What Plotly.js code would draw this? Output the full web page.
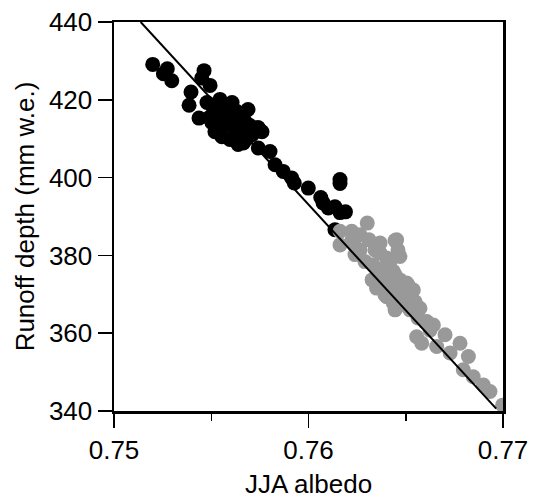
<!DOCTYPE html>
<html>
<head>
<meta charset="utf-8">
<script src="https://cdn.plot.ly/plotly-3.0.1.min.js"></script>
<style>html,body{margin:0;padding:0;background:#fff;}#chart{width:534px;height:499px;}</style>
</head>
<body>
<div id="chart"></div>
<script>
// Black series (earlier period)
var blackAlbedo = [
  0.75199, 0.75274, 0.75254, 0.75297, 0.75463, 0.75451, 0.75494, 0.75396, 0.75386, 0.75437,
  0.75478, 0.75509, 0.75545, 0.75576, 0.75607, 0.75535, 0.75571, 0.75596, 0.75632, 0.75658,
  0.75674, 0.75699, 0.75725, 0.75504, 0.75545, 0.75586, 0.75622, 0.75648, 0.75679, 0.75710,
  0.75740, 0.75761, 0.75519, 0.75555, 0.75596, 0.75638, 0.75668, 0.75627, 0.75689, 0.75488,
  0.75540, 0.75742, 0.75665, 0.75742, 0.75802, 0.75828, 0.75870, 0.75914, 0.75927, 0.75999,
  0.76063, 0.76102, 0.76162, 0.76162, 0.76136, 0.76190, 0.76136, 0.76075, 0.76162
];
var blackRunoff = [
  429.1, 428.0, 426.7, 424.9, 427.5, 425.6, 423.7, 422.0, 418.6, 415.3,
  419.3, 418.0, 420.1, 418.8, 419.3, 416.2, 417.0, 415.4, 417.0, 416.2,
  414.4, 413.4, 412.3, 414.1, 412.8, 413.6, 412.3, 411.0, 409.8, 411.0,
  412.8, 411.8, 411.8, 410.5, 409.8, 408.5, 412.3, 414.9, 417.5, 415.4,
  414.9, 412.8, 408.9, 407.6, 406.7, 403.3, 401.6, 399.9, 398.6, 397.3,
  394.9, 392.2, 399.5, 398.5, 392.5, 391.2, 386.6, 393.5, 391.0
];
// Grey series (later period)
var greyAlbedo = [
  0.76302, 0.76162, 0.76162, 0.76222, 0.76239, 0.76265, 0.76368, 0.76453, 0.76470, 0.76402,
  0.76368, 0.76436, 0.76359, 0.76350, 0.76505, 0.76539, 0.76402, 0.76436, 0.76505, 0.76573,
  0.76522, 0.76608, 0.76642, 0.76556, 0.76582, 0.76702, 0.76659, 0.76779, 0.76728, 0.76822,
  0.76796, 0.76847, 0.76899, 0.76933, 0.76998,
  0.76332, 0.76357, 0.76393, 0.76419, 0.76327, 0.76368, 0.76409, 0.76445, 0.76470, 0.76496,
  0.76393, 0.76434, 0.76460, 0.76522, 0.76486, 0.76532, 0.76445, 0.76548, 0.76563, 0.76599,
  0.76625, 0.76512, 0.76383,
  0.76224, 0.76265, 0.76311, 0.76445, 0.76460, 0.76342, 0.76290, 0.76239
];
var greyRunoff = [
  388.3, 386.2, 382.7, 386.2, 382.3, 385.3, 383.2, 384.0, 379.7, 379.3,
  380.6, 375.9, 373.3, 371.6, 372.9, 371.1, 369.4, 367.7, 368.6, 366.4,
  366.0, 363.0, 362.1, 359.1, 357.4, 359.6, 356.6, 357.4, 354.9, 354.0,
  350.6, 348.8, 346.7, 345.0, 341.5,
  377.6, 375.8, 376.8, 378.4, 373.7, 374.2, 372.9, 375.0, 373.7, 371.1,
  369.9, 369.1, 370.6, 369.1, 367.3, 366.0, 366.0, 368.1, 363.9, 362.9,
  360.8, 372.4, 372.4,
  384.0, 381.4, 384.0, 383.8, 381.4, 381.4, 378.4, 380.2
];
// Regression line end points
var fitAlbedo = [0.75137, 0.76965];
var fitRunoff = [440, 340.6];

var xTickVals = [0.75, 0.76, 0.77];
var xTickText = ['0.75', '0.76', '0.77'];
var yTickVals = [340, 360, 380, 400, 420, 440];

var FONT = '"Liberation Sans", Arial, Helvetica, sans-serif';

var traces = [
  {x: blackAlbedo, y: blackRunoff, type: 'scatter', mode: 'markers',
   marker: {color: '#000000', size: 15}, hoverinfo: 'x+y'},
  {x: greyAlbedo, y: greyRunoff, type: 'scatter', mode: 'markers',
   marker: {color: '#999999', size: 15}, hoverinfo: 'x+y'},
  {x: fitAlbedo, y: fitRunoff, type: 'scatter', mode: 'lines',
   line: {color: '#000000', width: 2}, hoverinfo: 'skip'}
];

var layout = {
  width: 534, height: 499,
  margin: {l: 114, r: 31, t: 22, b: 88},
  paper_bgcolor: '#ffffff', plot_bgcolor: '#ffffff',
  showlegend: false,
  font: {family: FONT, color: '#000000', size: 26},
  xaxis: {
    range: [0.75, 0.77], tickmode: 'array', tickvals: xTickVals, ticktext: xTickText,
    ticks: 'outside', ticklen: 14, tickwidth: 1.5, tickcolor: '#000',
    minor: {tickmode: 'array', tickvals: [0.755, 0.765], ticks: 'outside', ticklen: 7, tickwidth: 1.5, tickcolor: '#000', showgrid: false},
    showline: true, linecolor: '#000', linewidth: 2.5, mirror: true,
    showgrid: false, zeroline: false,
    tickfont: {family: FONT, size: 26, color: '#000'},
    title: {text: 'JJA albedo', font: {family: FONT, size: 26, color: '#000'}, standoff: 17},
    automargin: false
  },
  yaxis: {
    range: [340, 440], tickmode: 'array', tickvals: yTickVals,
    ticks: 'outside', ticklen: 14, tickwidth: 1.5, tickcolor: '#000',
    showline: true, linecolor: '#000', linewidth: 2.5, mirror: true,
    showgrid: false, zeroline: false,
    tickfont: {family: FONT, size: 26, color: '#000'},
    title: {text: 'Runoff depth (mm w.e.)', font: {family: FONT, size: 26, color: '#000'}, standoff: 7},
    automargin: false
  }
};

Plotly.newPlot('chart', traces, layout, {staticPlot: true, displayModeBar: false});
</script>
</body>
</html>
